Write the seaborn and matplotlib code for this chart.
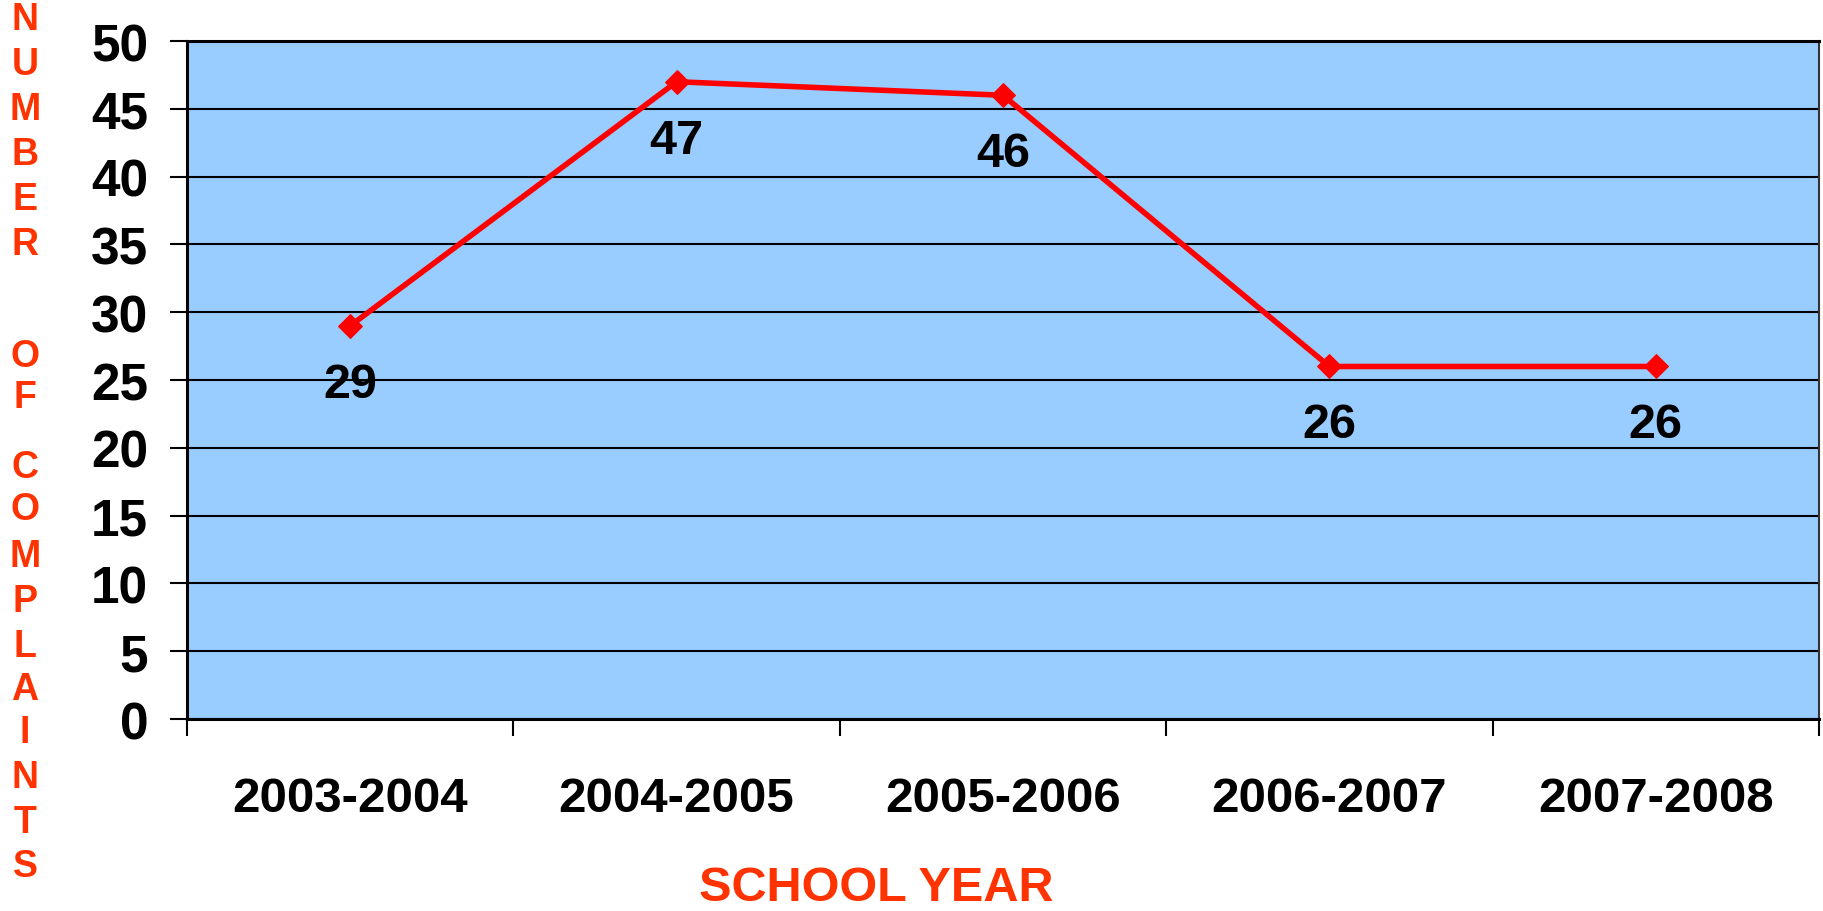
import matplotlib
matplotlib.use("Agg")
import matplotlib.pyplot as plt
import seaborn as sns
import pandas as pd

# Complaints per school year
school_years = ["2003-2004", "2004-2005", "2005-2006", "2006-2007", "2007-2008"]
complaints = [29, 47, 46, 26, 26]
y_ticks = [0, 5, 10, 15, 20, 25, 30, 35, 40, 45, 50]

df = pd.DataFrame({"year": school_years, "complaints": complaints})

sns.set_theme(style="white")
plt.rcParams["font.family"] = ["Liberation Sans", "DejaVu Sans"]
plt.rcParams["font.weight"] = "bold"
plt.rcParams["text.color"] = "black"
plt.rcParams["xtick.color"] = "black"
plt.rcParams["ytick.color"] = "black"
plt.rcParams["xtick.labelcolor"] = "black"
plt.rcParams["ytick.labelcolor"] = "black"

LABEL_RED = "#FF3300"
LINE_RED = "#FF0000"

fig = plt.figure(figsize=(18.23, 9.12), dpi=100)
ax = fig.add_axes([0.1026, 0.2105, 0.8952, 0.7434])
ax.set_facecolor("#99CCFF")

xpos = list(range(len(school_years)))
sns.lineplot(x=xpos, y=df["complaints"], ax=ax, color=LINE_RED, linewidth=4.0,
             marker="D", markersize=12.5, markeredgecolor=LINE_RED, zorder=5)

for x, v in zip(xpos, complaints):
    ax.annotate(str(v), (x, v), xytext=(0, -42), textcoords="offset points",
                ha="center", va="center", fontsize=35, fontweight="bold",
                color="black", zorder=6)

ax.set_xlim(-0.5, len(school_years) - 0.5)
ax.set_ylim(0, 50)
ax.set_yticks(y_ticks)
ax.set_yticklabels([str(t) for t in y_ticks], fontsize=37, fontweight="bold")
ax.set_xticks(xpos)
ax.set_xticklabels(school_years, fontsize=35.5, fontweight="bold")
ax.set_xticks([i - 0.5 for i in range(len(school_years) + 1)], minor=True)

ax.tick_params(axis="y", which="major", direction="out", length=12, width=1.5,
               color="black", pad=16, left=True)
ax.tick_params(axis="x", which="major", length=0, pad=41)
ax.tick_params(axis="x", which="minor", direction="out", length=12, width=1.5,
               color="black", bottom=True)

ax.yaxis.grid(True, color="black", linewidth=1.5)
ax.xaxis.grid(False)
ax.set_axisbelow(True)

for side in ["left", "bottom", "top"]:
    ax.spines[side].set_color("black")
    ax.spines[side].set_linewidth(2.2)
ax.spines["right"].set_color("#333333")
ax.spines["right"].set_linewidth(1.5)

ax.set_xlabel("")
ax.set_ylabel("")

# Vertical stacked axis title
title_letters = list("NUMBER") + list("OF") + list("COMPLAINTS")
letter_y_px = [20, 65, 110, 155, 200, 245,
               357, 398,
               468, 510, 557, 602, 647, 690, 733, 778, 823, 867]
H = 912
for ch, ypx in zip(title_letters, letter_y_px):
    fig.text(25 / 1823, 1 - ypx / H, ch, ha="center", va="center",
             fontsize=27, fontweight="bold", color=LABEL_RED)

fig.text(876 / 1823, 1 - 889 / H, "SCHOOL YEAR", ha="center", va="center",
         fontsize=35, fontweight="bold", color=LABEL_RED)

fig.savefig("out.png", dpi=100)
